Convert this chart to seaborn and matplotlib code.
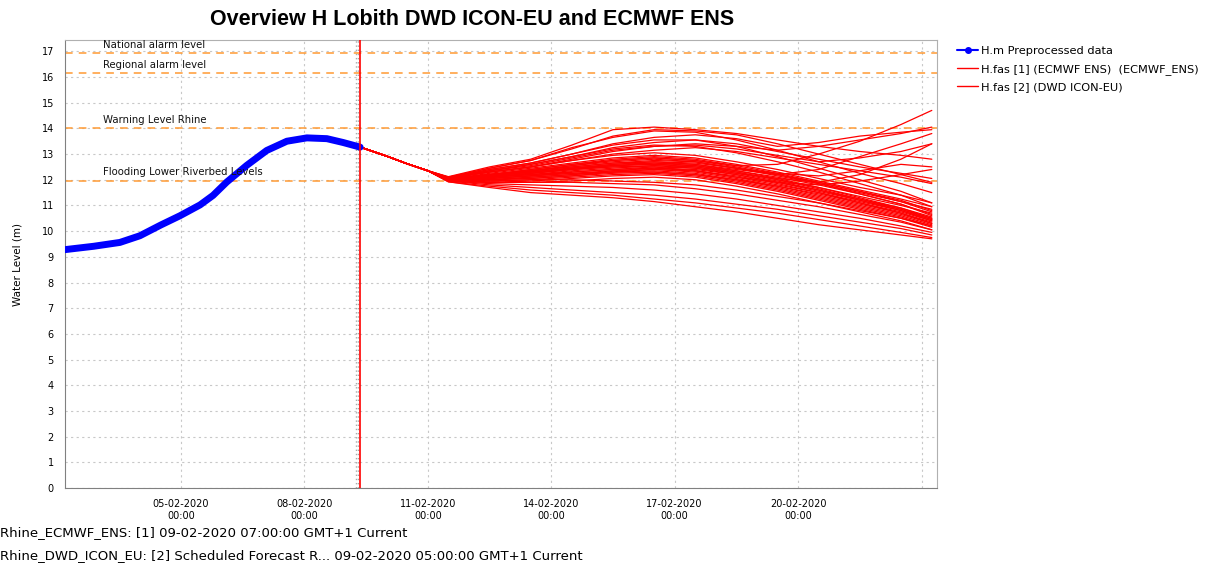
import pandas as pd
import numpy as np
import matplotlib.pyplot as plt
import matplotlib.dates as mdates
from matplotlib.lines import Line2D
import seaborn as sns

# Observed water level at Lobith (preprocessed)
obs_times = ["2020-02-02 04:20", "2020-02-02 21:00", "2020-02-03 12:20", "2020-02-04 00:00",
             "2020-02-04 12:15", "2020-02-04 23:25", "2020-02-05 11:05", "2020-02-05 18:40",
             "2020-02-06 02:40", "2020-02-06 14:20", "2020-02-07 02:00", "2020-02-07 13:45",
             "2020-02-08 01:25", "2020-02-08 13:05", "2020-02-08 22:35", "2020-02-09 08:30"]
obs_level = [9.28, 9.41, 9.56, 9.82, 10.24, 10.60, 11.02, 11.39,
             11.91, 12.56, 13.14, 13.50, 13.63, 13.60, 13.45, 13.27]

# Shared start of the forecast
fc_start_times = ["2020-02-09 08:30", "2020-02-10 00:00", "2020-02-10 12:00", "2020-02-11 00:00"]
fc_start_level = [13.27, 12.92, 12.62, 12.35]

# Ensemble member times after the shared start
fc_times = ["2020-02-11 12:00", "2020-02-12 12:00", "2020-02-13 12:00", "2020-02-14 12:00",
            "2020-02-15 12:00", "2020-02-16 12:00", "2020-02-17 12:00", "2020-02-18 12:00",
            "2020-02-19 12:00", "2020-02-20 12:00", "2020-02-21 12:00", "2020-02-22 12:00",
            "2020-02-23 06:00"]

ens_high = [
    [12.12, 12.50, 12.80, 13.35, 13.95, 14.05, 13.95, 13.80, 13.55, 13.30, 13.10, 12.95, 12.80],
    [12.10, 12.45, 12.75, 13.20, 13.70, 13.95, 13.90, 13.75, 13.40, 13.00, 12.60, 12.20, 11.90],
    [12.08, 12.40, 12.65, 13.00, 13.40, 13.65, 13.75, 13.60, 13.30, 13.45, 13.70, 13.85, 13.95],
    [12.08, 12.35, 12.60, 12.90, 13.25, 13.45, 13.55, 13.40, 13.10, 12.80, 12.50, 12.25, 12.05],
    [12.05, 12.30, 12.50, 12.80, 13.10, 13.30, 13.40, 13.30, 13.15, 13.30, 13.55, 13.80, 14.05],
    [12.05, 12.30, 12.50, 12.75, 13.00, 13.15, 13.25, 13.10, 12.85, 12.60, 12.35, 12.10, 11.85],
    [12.05, 12.35, 12.55, 12.85, 13.15, 13.30, 13.35, 13.20, 12.95, 12.70, 12.85, 13.10, 13.40],
    [12.10, 12.45, 12.75, 13.25, 13.65, 13.90, 13.85, 13.55, 13.15, 12.70, 12.25, 11.85, 11.50],
    [12.08, 12.40, 12.65, 13.00, 13.35, 13.55, 13.55, 13.30, 12.90, 12.45, 12.00, 11.55, 11.10],
    [12.08, 12.35, 12.60, 12.90, 13.20, 13.35, 13.30, 13.05, 12.70, 12.30, 11.85, 11.40, 10.95],
]

ens_rise = [
    [12.02, 12.20, 12.40, 12.60, 12.75, 12.85, 12.75, 12.55, 12.60, 13.00, 13.50, 14.15, 14.70],
    [12.02, 12.20, 12.35, 12.50, 12.65, 12.70, 12.60, 12.40, 12.20, 12.40, 12.90, 13.40, 13.80],
    [12.00, 12.15, 12.30, 12.45, 12.55, 12.60, 12.50, 12.25, 12.05, 11.90, 12.20, 12.80, 13.40],
    [12.02, 12.20, 12.35, 12.55, 12.70, 12.80, 12.70, 12.45, 12.25, 12.15, 12.35, 12.60, 12.50],
    [12.00, 12.10, 12.25, 12.40, 12.50, 12.50, 12.35, 12.10, 11.90, 11.80, 11.95, 12.20, 12.40],
]

ens_bulk = [
    [12.02, 12.20, 12.35, 12.50, 12.65, 12.75, 12.70, 12.45, 12.15, 11.85, 11.50, 11.15, 10.85],
    [12.02, 12.15, 12.30, 12.45, 12.60, 12.65, 12.55, 12.30, 12.00, 11.70, 11.35, 11.00, 10.70],
    [12.00, 12.10, 12.25, 12.40, 12.50, 12.55, 12.45, 12.20, 11.90, 11.60, 11.25, 10.90, 10.55],
    [12.00, 12.10, 12.20, 12.30, 12.40, 12.45, 12.35, 12.10, 11.80, 11.50, 11.15, 10.80, 10.45],
    [11.98, 12.05, 12.15, 12.25, 12.35, 12.40, 12.30, 12.05, 11.75, 11.40, 11.05, 10.70, 10.35],
    [11.98, 12.00, 12.10, 12.20, 12.30, 12.35, 12.25, 12.00, 11.70, 11.35, 11.00, 10.65, 10.30],
    [11.98, 12.00, 12.05, 12.15, 12.25, 12.30, 12.20, 11.95, 11.65, 11.30, 10.95, 10.60, 10.25],
    [11.95, 11.95, 12.00, 12.10, 12.20, 12.25, 12.15, 11.90, 11.60, 11.25, 10.90, 10.55, 10.20],
    [11.95, 11.90, 11.95, 12.05, 12.15, 12.20, 12.10, 11.85, 11.55, 11.20, 10.85, 10.50, 10.15],
    [11.95, 11.90, 11.90, 11.95, 12.05, 12.10, 12.00, 11.75, 11.45, 11.10, 10.75, 10.40, 10.05],
    [12.02, 12.25, 12.45, 12.65, 12.85, 12.95, 12.85, 12.60, 12.30, 11.95, 11.60, 11.25, 10.95],
    [12.05, 12.30, 12.50, 12.75, 12.95, 13.05, 12.95, 12.70, 12.40, 12.05, 11.70, 11.40, 11.10],
    [12.02, 12.15, 12.30, 12.45, 12.55, 12.60, 12.55, 12.35, 12.10, 11.80, 11.45, 11.05, 10.65],
    [12.00, 12.05, 12.15, 12.25, 12.30, 12.30, 12.20, 12.00, 11.75, 11.45, 11.10, 10.75, 10.40],
    [12.00, 12.10, 12.25, 12.40, 12.55, 12.65, 12.60, 12.35, 12.05, 11.70, 11.30, 10.90, 10.50],
    [12.02, 12.20, 12.35, 12.55, 12.75, 12.85, 12.75, 12.50, 12.20, 11.85, 11.45, 11.05, 10.60],
    [11.98, 12.00, 12.10, 12.20, 12.35, 12.45, 12.40, 12.20, 11.90, 11.55, 11.20, 10.85, 10.50],
    [12.00, 12.05, 12.15, 12.30, 12.40, 12.50, 12.45, 12.25, 11.95, 11.60, 11.20, 10.80, 10.40],
    [12.02, 12.20, 12.40, 12.60, 12.80, 12.90, 12.80, 12.55, 12.25, 11.90, 11.55, 11.20, 10.80],
    [12.00, 12.10, 12.20, 12.35, 12.45, 12.55, 12.50, 12.30, 12.00, 11.65, 11.25, 10.85, 10.45],
    [12.02, 12.15, 12.30, 12.45, 12.60, 12.70, 12.65, 12.45, 12.20, 11.90, 11.55, 11.15, 10.75],
    [11.98, 12.00, 12.05, 12.15, 12.30, 12.40, 12.35, 12.15, 11.85, 11.50, 11.10, 10.70, 10.30],
]

ens_low = [
    [11.92, 11.75, 11.60, 11.50, 11.40, 11.25, 11.10, 10.90, 10.70, 10.45, 10.20, 9.95, 9.75],
    [11.92, 11.70, 11.50, 11.40, 11.30, 11.15, 10.95, 10.75, 10.50, 10.25, 10.05, 9.85, 9.70],
    [11.95, 11.80, 11.70, 11.60, 11.50, 11.40, 11.25, 11.05, 10.85, 10.60, 10.35, 10.10, 9.85],
    [11.95, 11.85, 11.80, 11.75, 11.70, 11.60, 11.45, 11.25, 11.00, 10.75, 10.50, 10.20, 9.95],
    [11.98, 11.90, 11.90, 11.90, 11.85, 11.80, 11.65, 11.45, 11.20, 10.95, 10.65, 10.35, 10.05],
    [11.98, 11.95, 12.00, 12.00, 11.95, 11.90, 11.80, 11.60, 11.35, 11.10, 10.80, 10.50, 10.20],
]

# DWD ICON-EU (shorter horizon)
icon_times = ["2020-02-11 12:00", "2020-02-12 12:00", "2020-02-13 12:00", "2020-02-14 12:00"]
icon_level = [12.00, 12.10, 12.20, 12.30]

# Threshold levels
thr_names = ["National alarm level", "Regional alarm level", "Warning Level Rhine",
             "Flooding Lower Riverbed Levels"]
thr_values = [16.95, 16.17, 14.0, 11.97]

tick_dates = ["2020-02-05", "2020-02-08", "2020-02-11", "2020-02-14", "2020-02-17", "2020-02-20"]

# Build long-form table of forecast members
rows = []
members = ens_high + ens_rise + ens_bulk + ens_low
t_all = pd.to_datetime(fc_start_times + fc_times)
for i, m in enumerate(members):
    for t, v in zip(t_all, fc_start_level + m):
        rows.append({"time": t, "level": v, "member": f"ens{i}"})
for t, v in zip(pd.to_datetime(fc_start_times + icon_times), fc_start_level + icon_level):
    rows.append({"time": t, "level": v, "member": "icon"})
fc_df = pd.DataFrame(rows)
obs_df = pd.DataFrame({"time": pd.to_datetime(obs_times), "level": obs_level})

sns.set_style("white")
plt.rcParams["font.family"] = ["DejaVu Sans"]
plt.rcParams["text.color"] = "black"

fig = plt.figure(figsize=(12.11, 5.66), dpi=100)
ax = fig.add_axes([0.0537, 0.1378, 0.72, 0.7915])

orange = "#ff9a33"
for name, val in zip(thr_names, thr_values):
    ax.axhline(val, color=orange, ls=(0, (5, 4)), lw=1.1, zorder=2)
    ax.text(pd.Timestamp("2020-02-03 02:30"), val + 0.12, name, fontsize=7.3, va="bottom",
            color="#111111", zorder=5)

sns.lineplot(data=fc_df, x="time", y="level", units="member", estimator=None,
             color="red", lw=0.9, ax=ax, zorder=3)
sns.lineplot(data=obs_df, x="time", y="level", color="#0000ff", lw=5, ax=ax, zorder=4)

# T0 and current time markers
ax.axvline(pd.Timestamp("2020-02-09 06:00"), color="#aaaaaa", ls=(0, (1, 2)), lw=1, zorder=1)
ax.axvline(pd.Timestamp("2020-02-09 07:00"), color="#aaaaaa", ls=(0, (1, 2)), lw=1, zorder=1)
ax.axvline(pd.Timestamp("2020-02-09 08:40"), color="red", lw=1.2, zorder=5)
ax.axvline(pd.Timestamp("2020-02-23"), color="#c8c8c8", ls=(0, (2, 3)), lw=0.8, zorder=1)

ax.set_xlim(pd.Timestamp("2020-02-02 04:20"), pd.Timestamp("2020-02-23 09:00"))
ax.set_ylim(0, 17.44)
ax.set_yticks(range(0, 18))
ax.set_xticks(pd.to_datetime(tick_dates))
ax.xaxis.set_major_formatter(mdates.DateFormatter("%d-%m-%Y\n%H:%M"))
ax.tick_params(axis="both", labelsize=7, length=3, color="#555555", direction="out",
               labelcolor="black")
ax.tick_params(axis="x", pad=5)
ax.tick_params(axis="y", pad=5)
ax.grid(True, color="#c8c8c8", ls=(0, (2, 3)), lw=0.8)
for s in ax.spines.values():
    s.set_color("#b0b0b0")
ax.spines["left"].set_color("#808080")
ax.spines["bottom"].set_color("#808080")
ax.set_xlabel("")
ax.set_ylabel("Water Level (m)", fontsize=7.5, color="black")
ax.yaxis.set_label_coords(-0.049, 0.5)

fig.text(0.39, 0.965, "Overview H Lobith DWD ICON-EU and ECMWF ENS", ha="center", va="center",
         fontsize=15.5, fontweight="bold", family="Liberation Sans", color="black")

handles = [Line2D([], [], color="#0000ff", marker="o", markersize=4, lw=1.5),
           Line2D([], [], color="red", lw=1),
           Line2D([], [], color="red", lw=1)]
labels = ["H.m Preprocessed data", "H.fas [1] (ECMWF ENS)  (ECMWF_ENS)", "H.fas [2] (DWD ICON-EU)"]
fig.legend(handles, labels, loc="upper left", bbox_to_anchor=(0.782, 0.937), frameon=False,
           fontsize=8.2, handlelength=1.8, handletextpad=0.3, labelspacing=0.68)

fig.text(0.0, 0.06, "Rhine_ECMWF_ENS: [1] 09-02-2020 07:00:00 GMT+1 Current", fontsize=9.5, va="center")
fig.text(0.0, 0.019, "Rhine_DWD_ICON_EU: [2] Scheduled Forecast R... 09-02-2020 05:00:00 GMT+1 Current",
         fontsize=9.5, va="center")

fig.savefig("out.png", dpi=100)
